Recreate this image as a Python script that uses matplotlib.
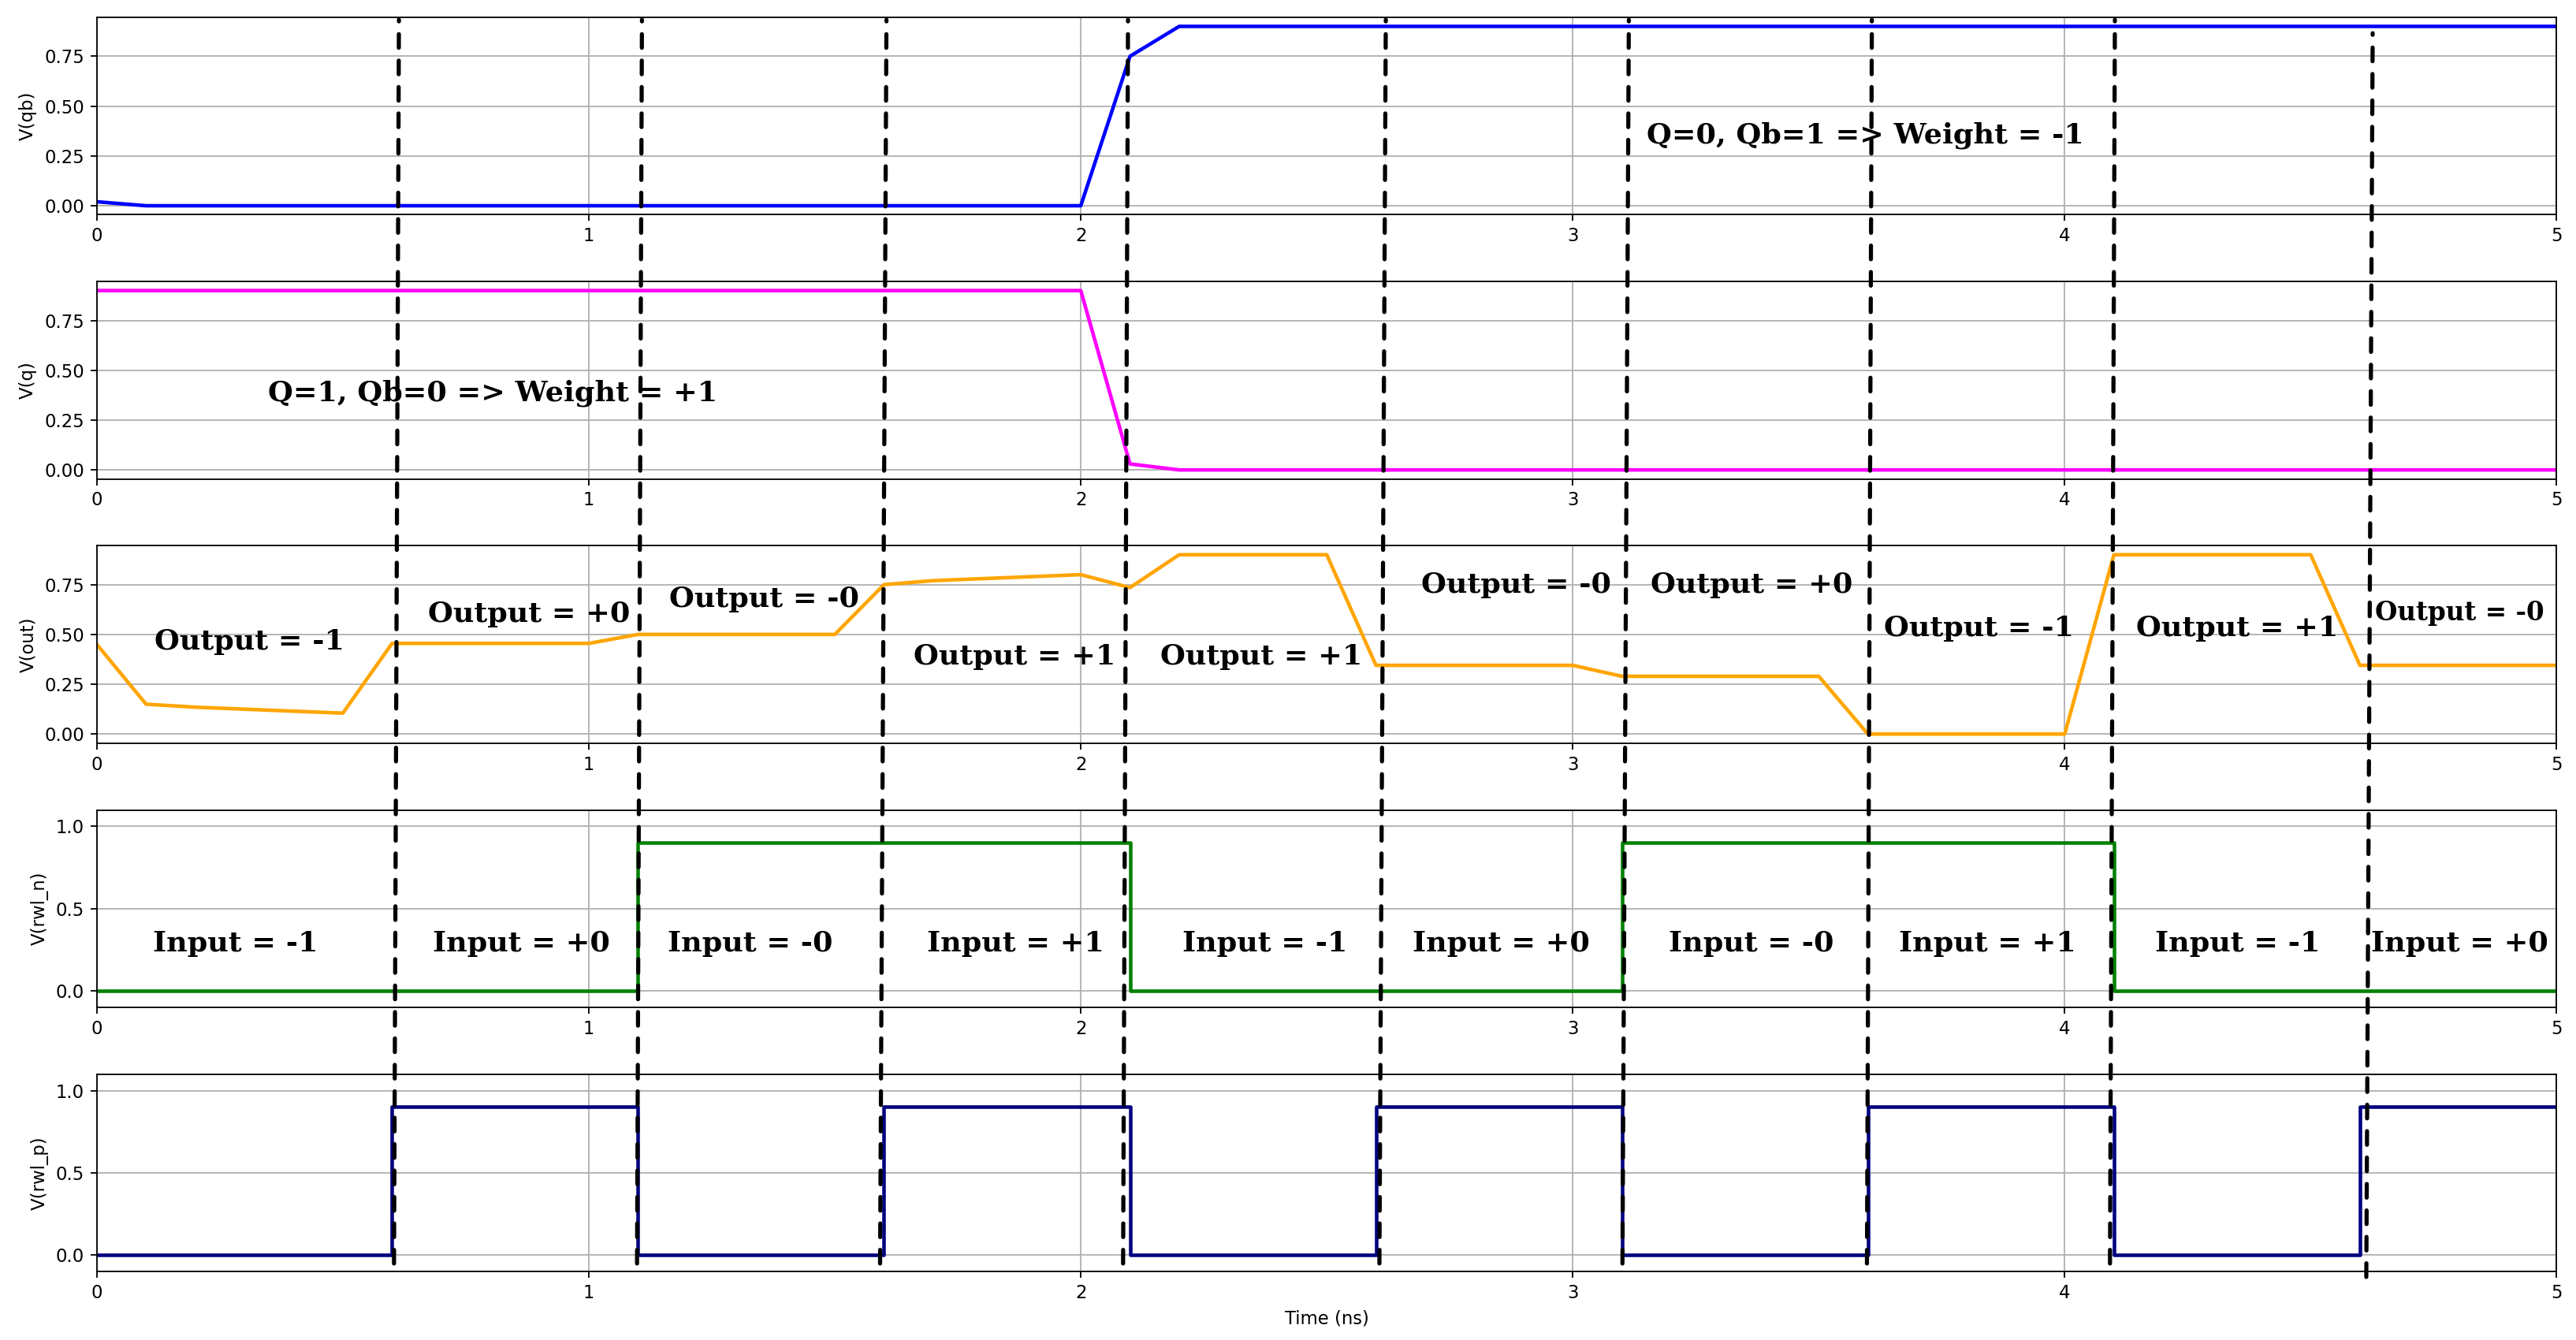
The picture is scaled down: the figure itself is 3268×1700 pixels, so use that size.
import numpy as np
import matplotlib
matplotlib.use('Agg')
import matplotlib.pyplot as plt
from matplotlib.patches import ConnectionPatch


# waveform breakpoints, time in ns, voltage in V
qb_t = [0.0, 0.1, 2.0, 2.1, 2.2, 5.0]
qb_v = [0.02, 0.0, 0.0, 0.75, 0.9, 0.9]

q_t = [0.0, 2.0, 2.1, 2.2, 5.0]
q_v = [0.9, 0.9, 0.03, 0.0, 0.0]

out_t = [0.0, 0.1, 0.2, 0.5, 0.6, 1.0, 1.1, 1.5, 1.6, 1.7, 1.8, 1.9, 2.0,
         2.1, 2.2, 2.5, 2.6, 3.0, 3.1, 3.5, 3.6, 4.0, 4.1, 4.5, 4.6, 5.0]
out_v = [0.45, 0.15, 0.135, 0.105, 0.455, 0.455, 0.50, 0.50, 0.75, 0.77,
         0.78, 0.79, 0.80, 0.735, 0.90, 0.90, 0.345, 0.345, 0.29, 0.29,
         0.0, 0.0, 0.90, 0.90, 0.345, 0.345]

rwl_n_t = [0.0, 1.1, 2.1, 3.1, 4.1, 5.0]
rwl_n_v = [0.0, 0.9, 0.0, 0.9, 0.0, 0.0]

rwl_p_t = [0.0, 0.6, 1.1, 1.6, 2.1, 2.6, 3.1, 3.6, 4.1, 4.6, 5.0]
rwl_p_v = [0.0, 0.9, 0.0, 0.9, 0.0, 0.9, 0.0, 0.9, 0.0, 0.9, 0.9]

# annotations
weight_labels = ['Q=0, Qb=1 => Weight = -1', 'Q=1, Qb=0 => Weight = +1']
weight_x = [3.595, 0.804]
weight_y = [0.354, 0.385]

out_labels = ['Output = -1', 'Output = +0', 'Output = -0', 'Output = +1',
              'Output = +1', 'Output = -0', 'Output = +0', 'Output = -1',
              'Output = +1', 'Output = -0']
out_lx = [0.31, 0.878, 1.357, 1.866, 2.367, 2.885, 3.363, 3.825, 4.351, 4.803]
out_ly = [0.462, 0.604, 0.676, 0.39, 0.39, 0.75, 0.75, 0.53, 0.53, 0.609]

in_labels = ['Input = -1', 'Input = +0', 'Input = -0', 'Input = +1',
             'Input = -1', 'Input = +0', 'Input = -0', 'Input = +1',
             'Input = -1', 'Input = +0']
in_lx = [0.282, 0.863, 1.328, 1.867, 2.375, 2.854, 3.363, 3.843, 4.351, 4.803]
in_ly = 0.286

# dashed separators (x at bottom of last plot, x at top of first plot)
div_bot = [0.604, 1.098, 1.592, 2.086, 2.607, 3.101, 3.598, 4.092, 4.613]
div_top = [0.614, 1.108, 1.605, 2.096, 2.620, 3.114, 3.608, 4.102, 4.626]


dpi = 164
fig, axes = plt.subplots(5, 1, figsize=(3268 / dpi, 1700 / dpi), dpi=dpi)
fig.subplots_adjust(left=0.0376, right=0.9925, top=0.987, bottom=0.0512,
                    hspace=0.339)

ax_qb, ax_q, ax_out, ax_n, ax_p = axes

ax_qb.plot(qb_t, qb_v, color='blue', lw=2)
ax_qb.set_ylabel('V(qb)')
ax_q.plot(q_t, q_v, color='magenta', lw=2)
ax_q.set_ylabel('V(q)')
ax_out.plot(out_t, out_v, color='orange', lw=2)
ax_out.set_ylabel('V(out)')
ax_n.plot(rwl_n_t, rwl_n_v, color='green', lw=2, drawstyle='steps-post')
ax_n.set_ylabel('V(rwl_n)')
ax_p.plot(rwl_p_t, rwl_p_v, color='navy', lw=2, drawstyle='steps-post')
ax_p.set_ylabel('V(rwl_p)')
ax_p.set_xlabel('Time (ns)')

for ax in (ax_qb, ax_q, ax_out):
    ax.set_ylim(-0.045, 0.945)
    ax.set_yticks([0.0, 0.25, 0.5, 0.75])
for ax in (ax_n, ax_p):
    ax.set_ylim(-0.1, 1.1)
    ax.set_yticks([0.0, 0.5, 1.0])
for ax in axes:
    ax.set_xlim(0, 5)
    ax.set_xticks([0, 1, 2, 3, 4, 5])
    ax.grid(True)

txt = dict(family='DejaVu Serif', weight='bold', ha='center', va='center')
ax_qb.text(weight_x[0], weight_y[0], weight_labels[0], fontsize=16, **txt)
ax_q.text(weight_x[1], weight_y[1], weight_labels[1], fontsize=16, **txt)
for i, lab in enumerate(out_labels):
    fs = 14.3 if i == len(out_labels) - 1 else 16
    ax_out.text(out_lx[i], out_ly[i], lab, fontsize=fs, **txt)
for i, lab in enumerate(in_labels):
    ax_n.text(in_lx[i], in_ly, lab, fontsize=16, **txt)

# vertical dashed lines running through all panels
# (the last one sits a little lower than the others)
for i, (xb, xt) in enumerate(zip(div_bot, div_top)):
    y0, y1 = (-0.028, 0.92) if i == len(div_bot) - 1 else (0.04, 0.988)
    con = ConnectionPatch(xyA=(xb, y0), coordsA=ax_p.get_xaxis_transform(),
                          xyB=(xt, y1), coordsB=ax_qb.get_xaxis_transform(),
                          color='black', lw=2.3, linestyle=(0, (3.3, 3.1)))
    fig.add_artist(con)

fig.savefig('out.png', dpi=dpi)
